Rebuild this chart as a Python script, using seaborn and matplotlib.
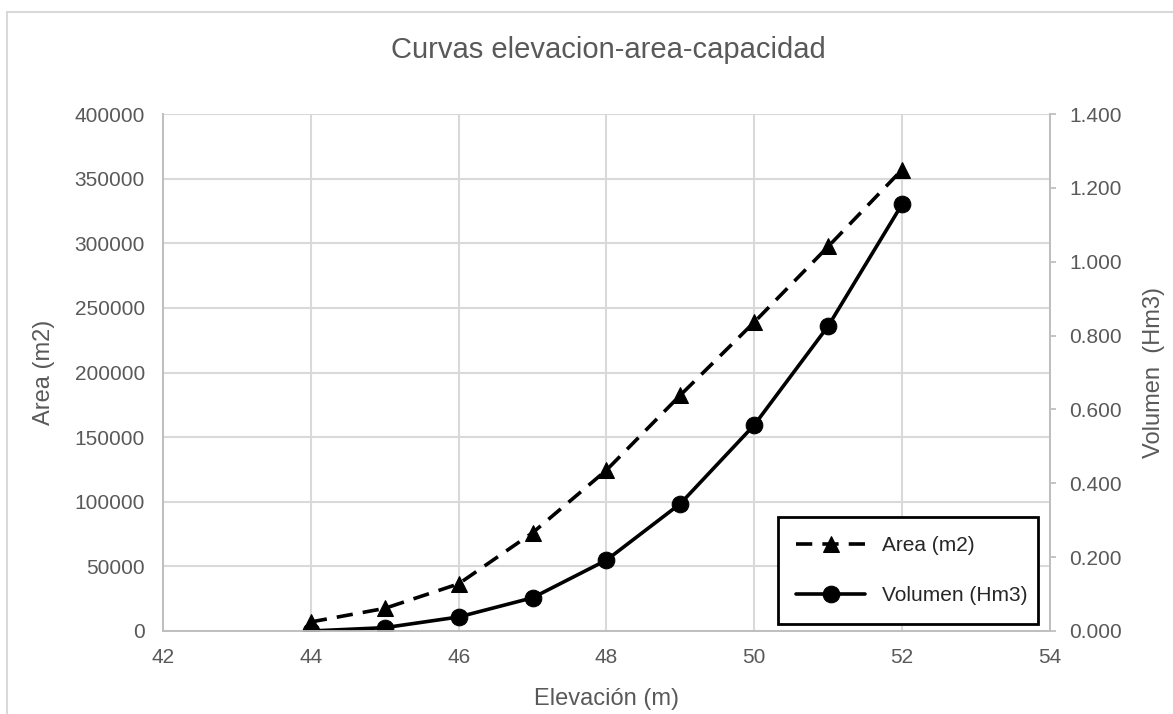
import numpy as np
import pandas as pd
import matplotlib.pyplot as plt
import seaborn as sns

elevacion = [44, 45, 46, 47, 48, 49, 50, 51, 52]
area_m2 = [7000, 17500, 36500, 76000, 124500, 182500, 239000, 297500, 357000]
volumen_hm3 = [0.000, 0.009, 0.038, 0.090, 0.192, 0.345, 0.558, 0.826, 1.156]

df = pd.DataFrame({"Elevacion": elevacion, "Area": area_m2, "Volumen": volumen_hm3})

sns.set_theme(style="white")
plt.rcParams["font.family"] = ["Liberation Sans", "DejaVu Sans"]
txt = "#595959"
grid = "#d9d9d9"
spine = "#bfbfbf"

fig = plt.figure(figsize=(11.73, 7.14), dpi=100)
ax = fig.add_axes([163/1173, 1-631/714, 887/1173, 517/714])
ax2 = ax.twinx()

sns.lineplot(data=df, x="Elevacion", y="Area", ax=ax, color="black", linewidth=2.6,
             linestyle=(0, (4.5, 2.8)), marker="^", markersize=11,
             markeredgecolor="black", markerfacecolor="black", legend=False)
sns.lineplot(data=df, x="Elevacion", y="Volumen", ax=ax2, color="black", linewidth=2.6,
             marker="o", markersize=12, markeredgecolor="black",
             markerfacecolor="black", legend=False)

ax.set_xlim(42, 54)
ax.set_xticks(np.arange(42, 55, 2))
ax.set_ylim(0, 400000)
ax.set_yticks(np.arange(0, 400001, 50000))
ax2.set_ylim(0, 1.4)
ax2.set_yticks(np.arange(0, 1.41, 0.2))
ax2.set_yticklabels([f"{v:.3f}" for v in np.arange(0, 1.41, 0.2)])

ax.grid(True, color=grid, linewidth=1.5)
ax.set_axisbelow(True)
for a in (ax, ax2):
    for s in a.spines.values():
        s.set_color(spine)
        s.set_linewidth(1.3)
    a.spines["top"].set_visible(False)
ax.tick_params(axis="x", length=0, pad=12, labelsize=15, labelcolor=txt)
ax.tick_params(axis="y", length=0, pad=13, labelsize=15, labelcolor=txt)
ax2.tick_params(axis="y", length=4, width=1.3, color=spine, pad=10, labelsize=15, labelcolor=txt)

ax.set_xlabel("Elevación (m)", fontsize=17, color=txt)
ax.set_ylabel("Area (m2)", fontsize=17, color=txt)
ax2.set_ylabel("Volumen  (Hm3)", fontsize=17, color=txt)
ax.xaxis.set_label_coords(0.5, -0.11)
ax.yaxis.set_label_coords(-0.122, 0.5)
ax2.yaxis.set_label_coords(1.105, 0.5)

fig.text(608/1173, 1-50/714, "Curvas elevacion-area-capacidad", fontsize=21,
         color=txt, ha="center", va="center")

handles = [ax.get_lines()[0], ax2.get_lines()[0]]
leg = ax2.legend(handles, ["Area (m2)", "Volumen (Hm3)"], loc="lower left",
                 bbox_to_anchor=(0.693, 0.0135, 0.293, 0.215), mode="expand",
                 borderaxespad=0, fontsize=15, handlelength=3.3, labelspacing=1.5,
                 fancybox=False, framealpha=1, edgecolor="black", borderpad=0.9)
leg.get_frame().set_linewidth(2)
for t in leg.get_texts():
    t.set_color("#262626")

fig.add_artist(plt.Line2D([7/1173, 7/1173], [0, 1-12/714], color="#d9d9d9", linewidth=1.5))
fig.add_artist(plt.Line2D([7/1173, 1], [1-12/714, 1-12/714], color="#d9d9d9", linewidth=1.5))

plt.savefig("out.png", dpi=100)
